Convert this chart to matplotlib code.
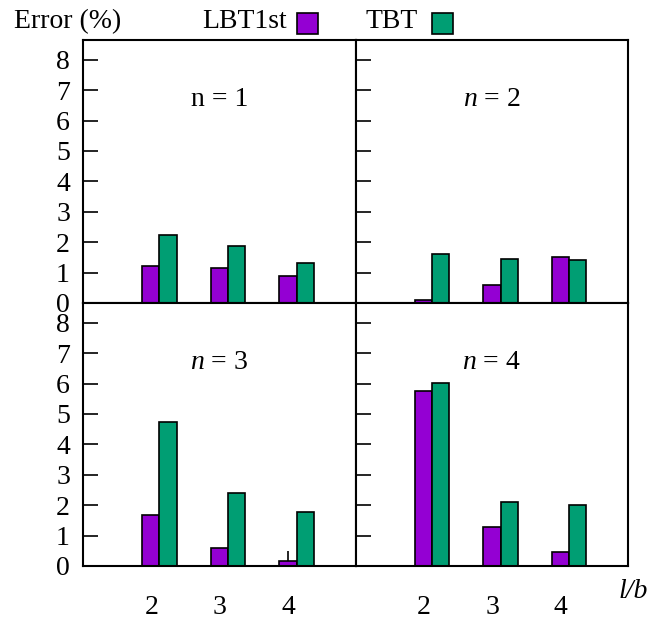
import numpy as np
import matplotlib
matplotlib.use("Agg")
import matplotlib.pyplot as plt
from matplotlib.patches import Rectangle

plt.rcParams["font.family"] = ["Liberation Serif", "DejaVu Serif"]
plt.rcParams["mathtext.fontset"] = "custom"
plt.rcParams["mathtext.rm"] = "Liberation Serif"
plt.rcParams["mathtext.it"] = "Liberation Serif:italic"

# aspect ratios on the x axis
ratios = ["2", "3", "4"]

# error (%) per panel, n = 1..4
lbt1st = {
    1: [1.21, 1.15, 0.88],
    2: [0.10, 0.60, 1.50],
    3: [1.67, 0.59, 0.17],
    4: [5.76, 1.28, 0.45],
}
tbt = {
    1: [2.25, 1.87, 1.31],
    2: [1.60, 1.46, 1.42],
    3: [4.72, 2.39, 1.76],
    4: [6.03, 2.12, 2.01],
}
# small upper error marker on the n = 3, l/b = 4 LBT1st bar
err_n3_lbt_upper = 0.49

purple = "#9400D3"
green = "#009E73"
fs = 20

fig, axes = plt.subplots(2, 2, figsize=(6.51, 6.20), dpi=100, sharex=True, sharey=True)
fig.subplots_adjust(left=0.1275, right=0.9647, bottom=0.0871, top=0.9355,
                    wspace=0, hspace=0)

x = np.arange(len(ratios))
w = 0.25
labels = {1: "n = 1", 2: "$n$ = 2", 3: "$n$ = 3", 4: "$n$ = 4"}

for n, ax in zip([1, 2, 3, 4], axes.flat):
    ax.bar(x - w, lbt1st[n], w, align="edge", color=purple,
           edgecolor="black", linewidth=1.2, zorder=2)
    ax.bar(x, tbt[n], w, align="edge", color=green,
           edgecolor="black", linewidth=1.2, zorder=2)
    ax.text(0.5, 0.772, labels[n], transform=ax.transAxes, ha="center",
            va="center", fontsize=fs)
    for s in ax.spines.values():
        s.set_linewidth(1.5)
    ax.tick_params(axis="y", direction="in", length=10.8, width=1.2,
                   pad=9.4, labelsize=fs, right=False)
    ax.tick_params(axis="x", length=0, pad=21, labelsize=fs, top=False)

# error marker above the n = 3 bar at l/b = 4
ax3 = axes[1, 0]
ax3.vlines(x[2] - w / 2, lbt1st[3][2], err_n3_lbt_upper, color="black",
           linewidth=1.2, zorder=3)

ax0 = axes[0, 0]
ax0.set_xlim(-1.115, 2.86)
ax0.set_ylim(0, 8.65)
ax0.set_yticks(range(0, 9))
ax0.set_xticks(x - 0.12)
ax0.set_xticklabels(ratios)
for ax in axes[:, 1]:
    ax.tick_params(axis="y", labelleft=False)

# header: axis title and legend
fig.text(14 / 651, 1 - 22 / 620, "Error (%)", fontsize=fs, ha="left", va="center")
keys = [("LBT1st", purple, 287, 297), ("TBT", green, 418, 432)]
for name, col, tx, bx in keys:
    fig.text(tx / 651, 1 - 22 / 620, name, fontsize=fs, ha="right", va="center")
    fig.patches.append(Rectangle((bx / 651, 1 - 34 / 620), 21 / 651, 21 / 620,
                                 transform=fig.transFigure, facecolor=col,
                                 edgecolor="black", linewidth=1.2))

fig.text(648 / 651, 1 - 592 / 620, "l/b", fontsize=fs, style="italic",
         ha="right", va="center")

fig.savefig("out.png", dpi=100)
